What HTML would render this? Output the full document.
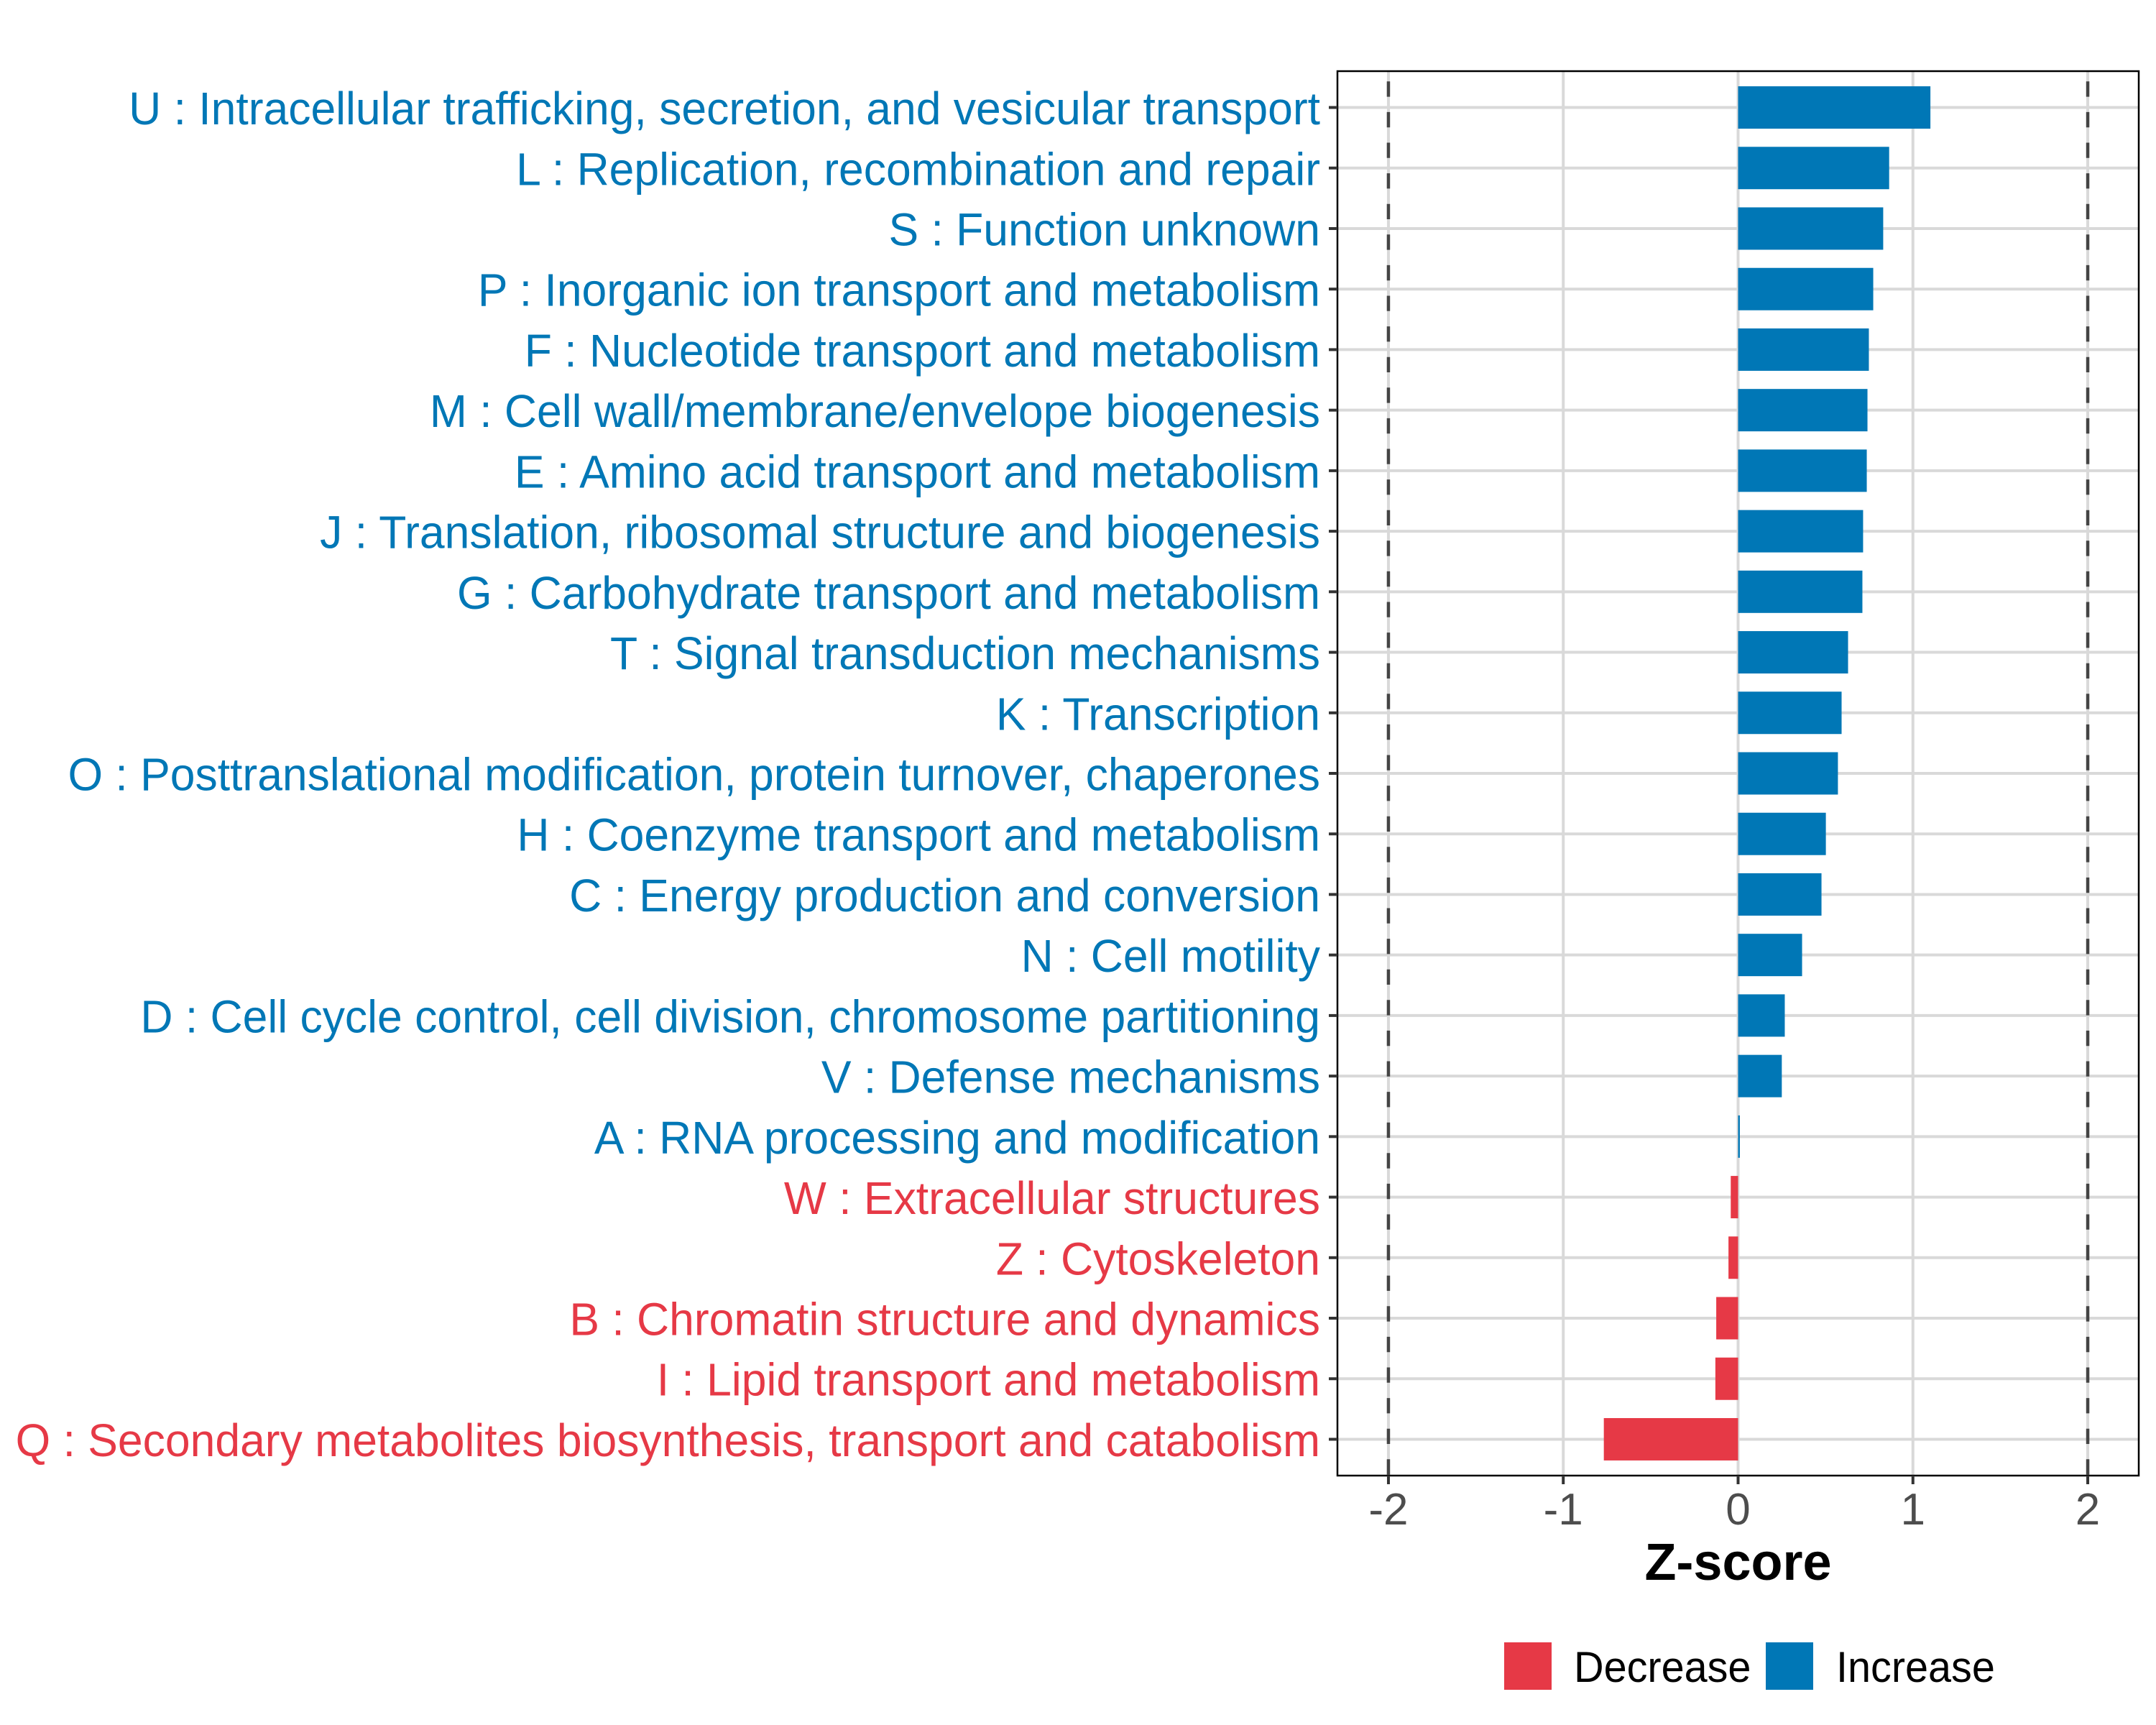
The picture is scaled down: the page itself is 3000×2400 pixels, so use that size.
<!DOCTYPE html>
<html><head><meta charset="utf-8"><style>
html,body{margin:0;padding:0;background:#fff;}
svg{display:block;}
text{font-family:"Liberation Sans",Arial,sans-serif;}
</style></head><body>
<svg id="chart" width="3000" height="2400" viewBox="0 0 3000 2400" xmlns="http://www.w3.org/2000/svg">
<rect width="3000" height="2400" fill="#fff"/>
<g id="grid"></g>
<g id="bars"></g>
<g id="refs"></g>
<rect x="1861" y="99" width="1115" height="1954" fill="none" stroke="#000" stroke-width="2.5"/>
<g id="ylabels"></g>
<g id="xaxis"></g>
<text x="2418.5" y="2198" text-anchor="middle" font-size="72" font-weight="bold" fill="#000">Z-score</text>
<g>
<rect x="2093" y="2285" width="66" height="66" fill="#E63946"/>
<text transform="translate(2190,2340) scale(0.96,1)" font-size="60" fill="#000">Decrease</text>
<rect x="2457" y="2285" width="66" height="66" fill="#0077B6"/>
<text transform="translate(2555,2340) scale(0.96,1)" font-size="60" fill="#000">Increase</text>
</g>
</svg>
<script>
const categories = [
"U : Intracellular trafficking, secretion, and vesicular transport",
"L : Replication, recombination and repair",
"S : Function unknown",
"P : Inorganic ion transport and metabolism",
"F : Nucleotide transport and metabolism",
"M : Cell wall/membrane/envelope biogenesis",
"E : Amino acid transport and metabolism",
"J : Translation, ribosomal structure and biogenesis",
"G : Carbohydrate transport and metabolism",
"T : Signal transduction mechanisms",
"K : Transcription",
"O : Posttranslational modification, protein turnover, chaperones",
"H : Coenzyme transport and metabolism",
"C : Energy production and conversion",
"N : Cell motility",
"D : Cell cycle control, cell division, chromosome partitioning",
"V : Defense mechanisms",
"A : RNA processing and modification",
"W : Extracellular structures",
"Z : Cytoskeleton",
"B : Chromatin structure and dynamics",
"I : Lipid transport and metabolism",
"Q : Secondary metabolites biosynthesis, transport and catabolism"
];
const zscores = [1.10,0.864,0.83,0.773,0.748,0.740,0.736,0.715,0.711,0.629,0.592,0.571,0.502,0.477,0.366,0.267,0.25,0.01,-0.042,-0.055,-0.125,-0.13,-0.768];
const xTicks = [-2,-1,0,1,2];
const xTickLabels = ["-2","-1","0","1","2"];
const refLines = [-2,2];

const NS="http://www.w3.org/2000/svg";
const panelL=1861, panelR=2976, panelT=99, panelB=2053;
const xmin=-2.2917, xmax=2.2917;
function xs(v){return panelL+(v-xmin)/(xmax-xmin)*(panelR-panelL);}
const band=(panelB-panelT)/(categories.length-1+1.2);
function ys(i){return panelT+0.6*band+i*band;}
function mk(tag,attrs,parent){const e=document.createElementNS(NS,tag);for(const k in attrs)e.setAttribute(k,attrs[k]);parent.appendChild(e);return e;}
const grid=document.getElementById('grid'),bars=document.getElementById('bars'),refs=document.getElementById('refs'),yl=document.getElementById('ylabels'),xa=document.getElementById('xaxis');
const BLUE="#0077B6",RED="#E63946";
xTicks.forEach((t,i)=>{
  const g=mk('line',{x1:xs(t),x2:xs(t),y1:panelT,y2:panelB,stroke:"#D9D9D9","stroke-width":4},grid);
  
  
  const tk=mk('line',{x1:xs(t),x2:xs(t),y1:panelB,y2:panelB+12,stroke:"#333","stroke-width":4},xa);
  
  
  const tl=mk('text',{x:xs(t),y:2121,"text-anchor":"middle","font-size":62,fill:"#4D4D4D"},xa);
  tl.textContent=xTickLabels[i];
  
  
});
categories.forEach((c,i)=>{
  const y=ys(i);
  const g=mk('line',{x1:panelL,x2:panelR,y1:y,y2:y,stroke:"#D9D9D9","stroke-width":4},grid);
  
  
  const v=zscores[i];
  const x0=xs(0),x1=xs(v);
  const col=v>=0?BLUE:RED;
  const b=mk('rect',{x:Math.min(x0,x1),y:y-0.35*band,width:Math.max(Math.abs(x1-x0),1.5),height:0.7*band,fill:col},bars);
  
  
  const tk=mk('line',{x1:panelL-12,x2:panelL,y1:y,y2:y,stroke:"#333","stroke-width":4},yl);
  
  
  const t=mk('text',{transform:'translate(1837,'+(y+23.5)+') scale(0.976,1)',"text-anchor":"end","font-size":64,fill:col},yl);
  t.textContent=c;
  
  
});
refLines.forEach(r=>{
  const l=mk('line',{x1:xs(r),x2:xs(r),y1:113.3,y2:panelB,stroke:"#444","stroke-width":4.5,"stroke-dasharray":"21.3 21.3"},refs);
  
  
});
</script>
</body></html>
